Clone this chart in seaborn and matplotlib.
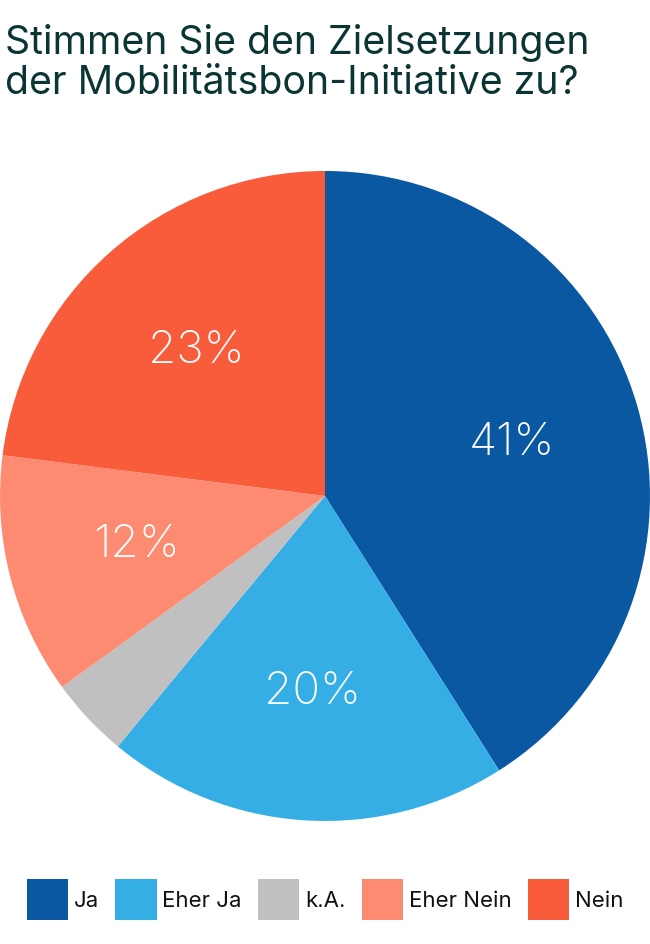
import matplotlib
matplotlib.use("Agg")
import numpy as np
import matplotlib.pyplot as plt
from matplotlib.patches import Patch
import seaborn as sns

# survey answers
categories = ['Ja', 'Eher Ja', 'k.A.', 'Eher Nein', 'Nein']
shares = [41, 20, 4, 12, 23]
pct_labels = ['41%', '20%', '', '12%', '23%']
colors = ['#0a58a2', '#35aee6', '#c0c0c0', '#fd8b72', '#f85c3b']

title = 'Stimmen Sie den Zielsetzungen\nder Mobilitätsbon-Initiative zu?'

sns.set_theme(style='white')
plt.rcParams['font.family'] = ['Inter', 'DejaVu Sans']
palette = sns.color_palette(colors)

fig = plt.figure(figsize=(6.5, 9.45), dpi=100)
ax = fig.add_axes([0.0, 0.1302, 1.0, 0.6878])

wedges, _ = ax.pie(shares, colors=palette, startangle=90, counterclock=False,
                   radius=1.0, wedgeprops={'linewidth': 0})
# percentage labels at 60% of the radius, middle of each slice
theta = 90 - np.cumsum([0] + shares[:-1]) * 3.6 - np.array(shares) * 1.8
for lab, t in zip(pct_labels, theta):
    if lab:
        ax.text(0.6 * np.cos(np.radians(t)), 0.6 * np.sin(np.radians(t)), lab,
                ha='center', va='center', color='white', fontsize=33,
                fontweight='light')
ax.set_xlim(-1, 1)
ax.set_ylim(-1, 1)
ax.set_aspect('equal')
ax.axis('off')

fig.text(0.008, 0.975, title, ha='left', va='top', fontsize=28.3,
         color='#0b3535', linespacing=1.12)

handles = [Patch(facecolor=c, edgecolor='none') for c in palette]
fig.legend(handles, categories, loc='center', bbox_to_anchor=(0.5, 0.047),
           ncol=5, frameon=False, fontsize=16, handlelength=1.85,
           handleheight=2.46, handletextpad=0.25, columnspacing=0.75,
           labelcolor='#111111')

fig.savefig('out.png', dpi=100, facecolor='white')
